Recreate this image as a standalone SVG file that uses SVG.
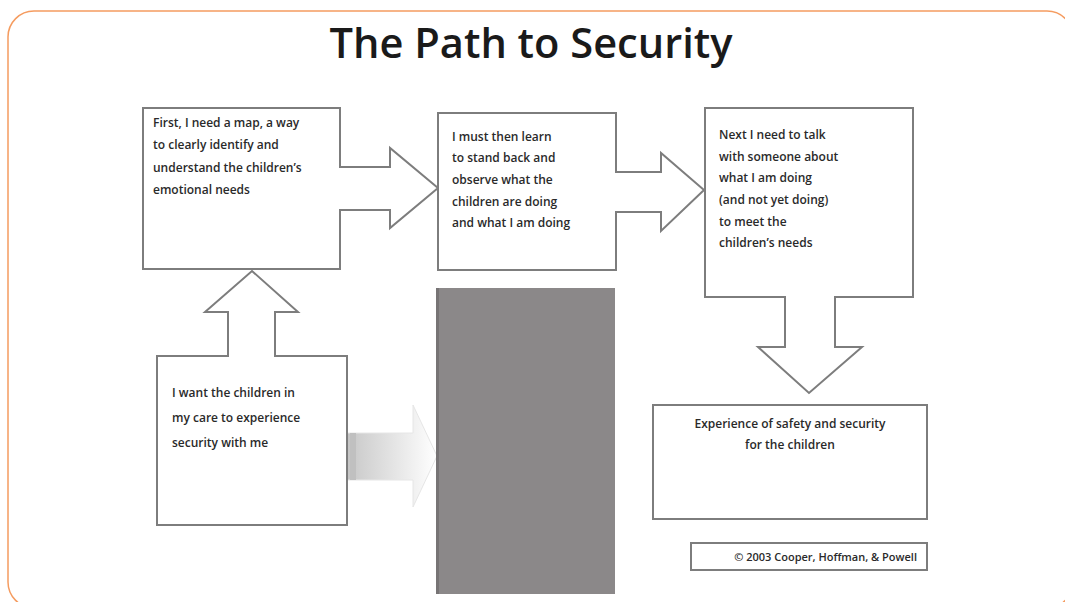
<svg xmlns="http://www.w3.org/2000/svg" width="1065" height="602" viewBox="0 0 1065 602">
<defs>
<style>
.node{fill:#ffffff;stroke:#7d7d7d;stroke-width:2;stroke-linejoin:miter}
.t{font-family:"Open Sans","Liberation Sans",sans-serif;font-weight:600;font-size:12px;fill:#2a2a2a}
.title{font-family:"Open Sans","Liberation Sans",sans-serif;font-weight:600;font-size:42px;fill:#1a1a1a}
</style>
<linearGradient id="fade" x1="0" y1="0" x2="1" y2="0">
<stop offset="0" stop-color="#c4c4c4"/>
<stop offset="0.15" stop-color="#d0d0d0"/>
<stop offset="1" stop-color="#ffffff"/>
</linearGradient>
</defs>
<rect x="8" y="11" width="1065" height="597" rx="26" ry="26" fill="#ffffff" stroke="#f59c60" stroke-width="1.5"/>
<text class="title" x="531" y="58" text-anchor="middle" textLength="403" lengthAdjust="spacingAndGlyphs">The Path to Security</text>
<g id="connectors">
<path d="M347,433 H413 V405 L437,456 L413,507 V480 H347 Z" fill="url(#fade)" stroke="#e6e6e6" stroke-width="1"/>
<rect x="350" y="433" width="6" height="47" fill="#c0c0c0"/>
</g>
<g id="barrier">
<rect x="436" y="288" width="179" height="306" fill="#8b8889"/>
<rect x="436" y="288" width="3" height="306" fill="#777475"/>
</g>
<g id="node-map">
<path class="node" d="M143,108 H340 V167 H390 V148 L438,188 L390,228 V210 H340 V269 H143 Z"/>
<text class="t"><tspan x="153" y="127">First, I need a map, a way</tspan><tspan x="153" y="149">to clearly identify and</tspan><tspan x="153" y="172">understand the children’s</tspan><tspan x="153" y="194">emotional needs</tspan></text>
</g>
<g id="node-observe">
<path class="node" d="M438,113 H616 V172 H661 V153 L704,190 L661,231 V212 H616 V270 H438 Z"/>
<text class="t"><tspan x="452" y="141">I must then learn</tspan><tspan x="452" y="162">to stand back and</tspan><tspan x="452" y="184">observe what the</tspan><tspan x="452" y="206">children are doing</tspan><tspan x="452" y="227">and what I am doing</tspan></text>
</g>
<g id="node-talk">
<path class="node" d="M705,108 H913 V297 H835 V347 H862 L809,393 L758,347 H785 V297 H705 Z"/>
<text class="t"><tspan x="719" y="139">Next I need to talk</tspan><tspan x="719" y="161">with someone about</tspan><tspan x="719" y="182">what I am doing</tspan><tspan x="719" y="204">(and not yet doing)</tspan><tspan x="719" y="226">to meet the</tspan><tspan x="719" y="247">children’s needs</tspan></text>
</g>
<g id="node-want">
<path class="node" d="M157,356 H228 V312 H205 L252,271 L298,312 H275 V356 H347 V525 H157 Z"/>
<text class="t"><tspan x="172" y="397">I want the children in</tspan><tspan x="172" y="422">my care to experience</tspan><tspan x="172" y="447">security with me</tspan></text>
</g>
<g id="node-experience">
<rect class="node" x="653" y="405" width="274" height="114"/>
<text class="t" text-anchor="middle"><tspan x="790" y="428">Experience of safety and security</tspan><tspan x="790" y="449">for the children</tspan></text>
</g>
<g id="node-copyright">
<rect class="node" x="691" y="543" width="236" height="27"/>
<text class="t" x="917" y="561" text-anchor="end" style="font-size:11px">© 2003 Cooper, Hoffman, &amp; Powell</text>
</g>
</svg>
